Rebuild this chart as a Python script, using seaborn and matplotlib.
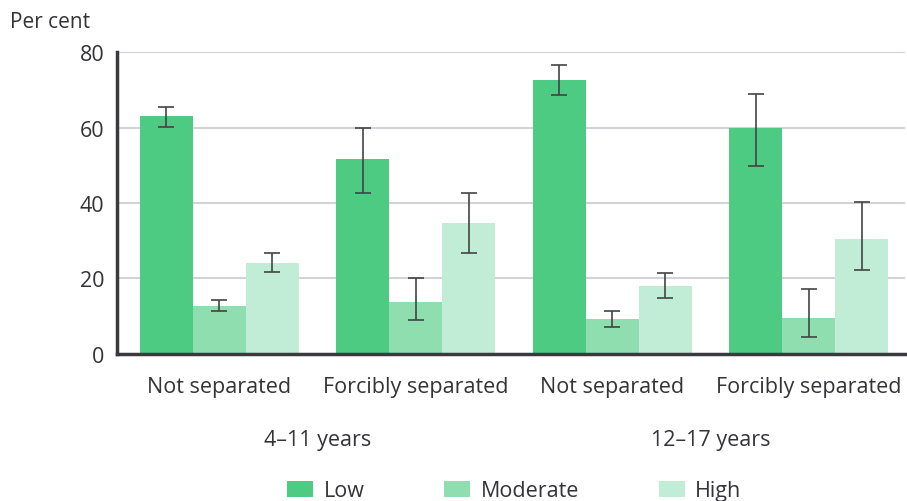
import matplotlib
matplotlib.use("Agg")
import matplotlib.pyplot as plt
import seaborn as sns
import pandas as pd
import numpy as np

groups = ["Not separated", "Forcibly separated", "Not separated ", "Forcibly separated "]
tick_labels = ["Not separated", "Forcibly separated", "Not separated", "Forcibly separated"]
age_labels = ["4\u201311 years", "12\u201317 years"]
levels = ["Low", "Moderate", "High"]

low = [63.0, 51.8, 72.7, 60.0]
low_lo = [60.2, 42.8, 68.6, 49.9]
low_hi = [65.6, 59.8, 76.5, 68.8]

moderate = [12.8, 13.8, 9.3, 9.5]
moderate_lo = [11.4, 9.0, 7.2, 4.6]
moderate_hi = [14.4, 20.2, 11.5, 17.3]

high = [24.2, 34.6, 18.0, 30.5]
high_lo = [21.7, 26.8, 14.8, 22.3]
high_hi = [26.8, 42.7, 21.4, 40.4]

colors = ["#4ecb82", "#8edeaf", "#c1ecd5"]
text_col = "#333338"
fs = 15.5

sns.set_style("white")
plt.rcParams["font.family"] = ["Open Sans", "DejaVu Sans"]

df = pd.DataFrame({
    "group": groups * 3,
    "level": [l for l in levels for _ in groups],
    "value": low + moderate + high,
    "lo": low_lo + moderate_lo + high_lo,
    "hi": low_hi + moderate_hi + high_hi,
})

fig = plt.figure(figsize=(9.07, 5.02), dpi=100)
ax = fig.add_axes([0.129, 0.293, 0.869, 0.601])

sns.barplot(data=df, x="group", y="value", hue="level", order=groups,
            hue_order=levels, palette=colors, width=0.81, errorbar=None,
            saturation=1, legend=True, ax=ax, zorder=2, linewidth=0)

# error bars placed at the centre of each drawn bar
for cont, lvl in zip(ax.containers, levels):
    sub = df[df["level"] == lvl].set_index("group").loc[groups]
    xs = [p.get_x() + p.get_width() / 2 for p in cont.patches]
    ys = sub["value"].values
    err = np.vstack([ys - sub["lo"].values, sub["hi"].values - ys])
    ax.errorbar(xs, ys, yerr=err, fmt="none", ecolor="#444444",
                elinewidth=1.2, capsize=6, capthick=1.2, zorder=3)

ax.set_ylim(0, 80)
ax.set_xlim(-0.52, 3.49)
ax.set_yticks([0, 20, 40, 60, 80])
ax.yaxis.grid(True, color="#d2d2da", linewidth=1.5, zorder=0)
ax.set_axisbelow(True)
for s in ["top", "right"]:
    ax.spines[s].set_visible(False)
for s in ["left", "bottom"]:
    ax.spines[s].set_color("#3a3a3e")
    ax.spines[s].set_linewidth(2.5)
ax.tick_params(axis="y", length=5, width=1.5, color="#3a3a3e",
               labelsize=fs, labelcolor=text_col, pad=4)
ax.tick_params(axis="x", length=0, labelsize=fs, labelcolor=text_col, pad=16)
ax.set_xticks(range(4))
ax.set_xticklabels(tick_labels)
ax.set_xlabel("")
ax.set_ylabel("")

fig.text(0.011, 0.955, "Per cent", fontsize=15, color=text_col, ha="left", va="center")

for i, lab in enumerate(age_labels):
    ax.text(2 * i + 0.5, -0.285, lab, transform=ax.get_xaxis_transform(),
            ha="center", va="center", fontsize=fs, color=text_col)

handles, labs = ax.get_legend_handles_labels()
ax.legend_.remove()
fig.legend(handles, labs, loc="center", bbox_to_anchor=(0.567, 0.02), ncol=3,
           frameon=False, fontsize=fs, handlelength=1.2, handleheight=0.8,
           columnspacing=3.7, handletextpad=0.5, labelcolor=text_col)

fig.savefig("out.png", dpi=100)
